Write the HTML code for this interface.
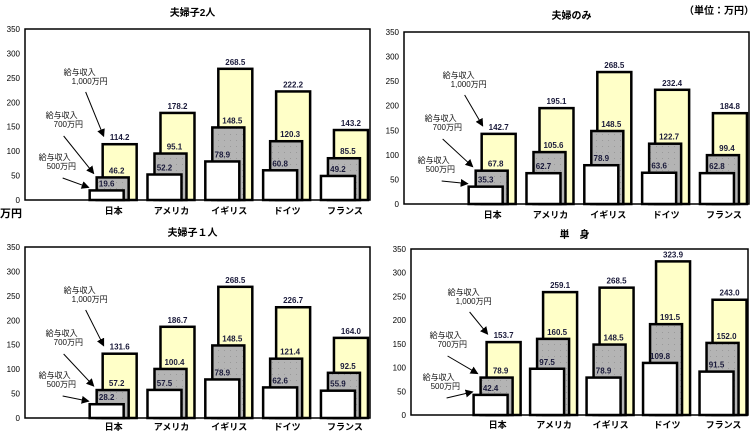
<!DOCTYPE html>
<html><head><meta charset="utf-8">
<style>
html,body{margin:0;padding:0;background:#fff;}
svg{display:block;font-family:"Liberation Sans","Noto Sans CJK JP",sans-serif;}
</style></head>
<body>
<svg id="chart" width="755" height="435" viewBox="0 0 755 435">
<defs>
<pattern id="dots" width="6" height="6" patternUnits="userSpaceOnUse">
<rect width="6" height="6" fill="#b4b4b4"/><rect x="2" y="2" width="1" height="1" fill="#999"/>
</pattern>
<marker id="arr" markerWidth="8" markerHeight="8" refX="7" refY="4" orient="auto" markerUnits="userSpaceOnUse">
<path d="M0,0 L8,4 L0,8 z" fill="#000"/>
</marker>
</defs>
<text x="0" y="217" font-size="11" font-weight="bold">万円</text>
<text x="684" y="14" font-size="10" font-weight="bold">（単位：万円）</text>
</svg>
<script>
const categories = ["日本","アメリカ","イギリス","ドイツ","フランス"];
const titles = ["夫婦子2人","夫婦のみ","夫婦子１人","単　身"];
const income500 = [[19.6,52.2,78.9,60.8,49.2],[35.3,62.7,78.9,63.6,62.8],[28.2,57.5,78.9,62.6,55.9],[42.4,97.5,78.9,109.8,91.5]];
const income700 = [[46.2,95.1,148.5,120.3,85.5],[67.8,105.6,148.5,122.7,99.4],[57.2,100.4,148.5,121.4,92.5],[78.9,160.5,148.5,191.5,152.0]];
const income1000 = [[114.2,178.2,268.5,222.2,143.2],[142.7,195.1,268.5,232.4,184.8],[131.6,186.7,268.5,226.7,164.0],[153.7,259.1,268.5,323.9,243.0]];
const yTicks = [0,50,100,150,200,250,300,350];

const panels = [
 {l:25,r:370,t:29,b:200,ty:16,cy:214},
 {l:404,r:749,t:32,b:204,ty:19,cy:218},
 {l:25,r:370,t:247,b:418,ty:236,cy:430},
 {l:411,r:748,t:249,b:415,ty:238,cy:428}
];
const svg = document.getElementById('chart');
const NS = 'http://www.w3.org/2000/svg';
function mk(tag, attrs, parent){
  const e = document.createElementNS(NS, tag);
  for (const k in attrs) e.setAttribute(k, attrs[k]);
  (parent||svg).appendChild(e);
  return e;
}
panels.forEach((p, pi) => {
  const g = mk('g', {});
  
  
  const y = v => p.b - (v/350)*(p.b - p.t);
  const w = p.r - p.l;
  const cx = i => p.l + w*(0.257 + i*0.1676);
  const plot = mk('rect', {x:p.l, y:p.t, width:w, height:p.b-p.t, fill:'#fff', stroke:'#000', 'stroke-width':1.5}, g);
  
  
  const tt = mk('text', {x:(p.l+p.r)/2 - 5, y:p.ty, 'font-size':10, 'font-weight':'bold', 'text-anchor':'middle'}, g);
  tt.textContent = titles[pi];
  
  
  yTicks.forEach(v => {
    const t = mk('text', {x:p.l-5, y:y(v)+3, 'font-size':8, 'text-anchor':'end'}, g);
    t.textContent = v;
    
    
  });
  categories.forEach((c, i) => {
    const x = cx(i);
    const sets = [
      {v:income1000[pi][i], x0:x-11, x1:x+23, fill:'#ffffc8', n:'bar-1000'},
      {v:income700[pi][i], x0:x-17, x1:x+15, fill:'url(#dots)', n:'bar-700'},
      {v:income500[pi][i], x0:x-24, x1:x+10, fill:'#fff', n:'bar-500'}
    ];
    sets.forEach(s => {
      const r = mk('rect', {x:s.x0, y:y(s.v), width:s.x1-s.x0, height:p.b-y(s.v), fill:s.fill, stroke:'#000', 'stroke-width':2.5}, g);
      
      
    });
    const labs = [
      {v:income1000[pi][i], x:x+6},
      {v:income700[pi][i], x:x+3},
      {v:income500[pi][i], x:x-7}
    ];
    labs.forEach(L => {
      const t = mk('text', {x:L.x, y:y(L.v)-4, 'font-size':8, 'font-weight':'bold', 'text-anchor':'middle', fill:'#1a1a3a'}, g);
      t.textContent = L.v.toFixed(1);
      
      
    });
    const cl = mk('text', {x:x, y:p.cy, 'font-size':9, 'font-weight':'bold', 'text-anchor':'middle'}, g);
    cl.textContent = c;
    
    
  });
  const x0 = cx(0);
  const ann = [
    {l1:'給与収入', l2:'1,000万円', ty:p.t+46, tx:x0-50, ax:x0-28, ay:p.t+63, bx:x0-10, by:y(income1000[pi][0])-8},
    {l1:'給与収入', l2:'700万円', ty:p.t+89, tx:x0-68, ax:x0-50, ay:p.t+107, bx:x0-20, by:y(income700[pi][0])-4},
    {l1:'給与収入', l2:'500万円', ty:p.t+131, tx:x0-75, ax:x0-51, ay:p.t+149, bx:x0-25, by:y(income500[pi][0])-3}
  ];
  ann.forEach(a => {
    const t1 = mk('text', {x:a.tx, y:a.ty, 'font-size':8, fill:'#111'}, g);
    t1.textContent = a.l1;
    
    
    const t2 = mk('text', {x:a.tx+8, y:a.ty+9, 'font-size':8, fill:'#111'}, g);
    t2.textContent = a.l2;
    
    
    const ln = mk('line', {x1:a.ax, y1:a.ay, x2:a.bx, y2:a.by, stroke:'#000', 'stroke-width':1, 'marker-end':'url(#arr)'}, g);
    
    
  });
});
</script>
</body></html>
